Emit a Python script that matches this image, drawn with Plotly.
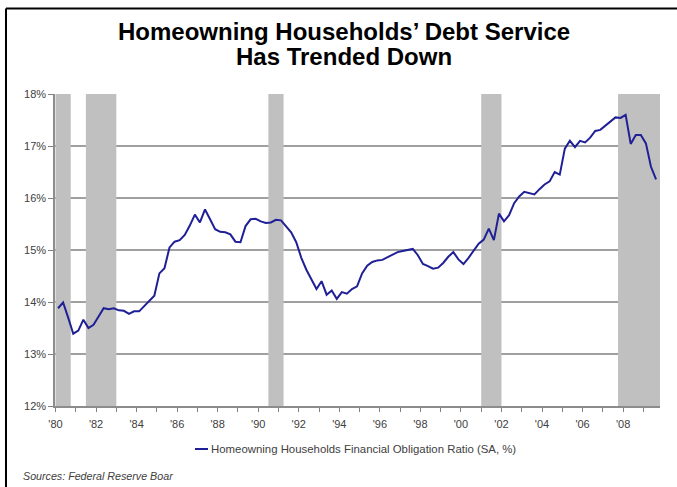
import plotly.graph_objects as go

# Homeowning households' financial obligation ratio, quarterly, 1980Q1-2009Q3 (SA, %)
years = list(range(1980, 2010))
ratio = [
    13.88, 13.99, 13.70, 13.39,   # 1980
    13.45, 13.66, 13.50, 13.56,   # 1981
    13.72, 13.88, 13.86, 13.88,   # 1982
    13.84, 13.83, 13.77, 13.82,   # 1983
    13.82, 13.92, 14.00, 14.12,   # 1984
    14.55, 14.65, 15.05, 15.16,   # 1985
    15.19, 15.29, 15.47, 15.68,   # 1986
    15.53, 15.78, 15.59, 15.40,   # 1987
    15.35, 15.34, 15.30, 15.16,   # 1988
    15.15, 15.46, 15.59, 15.60,   # 1989
    15.55, 15.52, 15.53, 15.58,   # 1990
    15.57, 15.45, 15.34, 15.15,   # 1991
    14.85, 14.62, 14.43, 14.25,   # 1992
    14.40, 14.14, 14.22, 14.06,   # 1993
    14.19, 14.16, 14.25, 14.30,   # 1994
    14.55, 14.70, 14.77, 14.80,   # 1995
    14.81, 14.86, 14.90, 14.96,   # 1996
    14.98, 15.00, 15.02, 14.90,   # 1997
    14.73, 14.69, 14.64, 14.66,   # 1998
    14.75, 14.87, 14.96, 14.82,   # 1999
    14.73, 14.85, 14.98, 15.12,   # 2000
    15.20, 15.41, 15.19, 15.70,   # 2001
    15.55, 15.67, 15.90, 16.03,   # 2002
    16.12, 16.10, 16.07, 16.17,   # 2003
    16.26, 16.32, 16.50, 16.45,   # 2004
    16.95, 17.10, 16.98, 17.10,   # 2005
    17.07, 17.16, 17.29, 17.31,   # 2006
    17.39, 17.46, 17.55, 17.54,   # 2007
    17.60, 17.04, 17.21, 17.21,   # 2008
    17.05, 16.60, 16.36,          # 2009
]

# Recession periods (decimal years); the last one runs to the end of the axis
recessions = [(1980.0, 1980.75), (1981.5, 1983.0), (1990.5, 1991.25),
              (2001.0, 2002.0), (2007.75, None)]

y_ticks = [12, 13, 14, 15, 16, 17, 18]
y_tick_labels = [f"{v}%" for v in y_ticks]
x_tick_labels = [f"'{str(y)[2:]}" if y % 2 == 0 else "" for y in years]

series_name = "Homeowning Households Financial Obligation Ratio (SA, %)"

# Quarter mid-points as decimal years
quarter_x = [years[i // 4] + 0.125 + 0.25 * (i % 4) for i in range(len(ratio))]

X_MIN, X_MAX = 1979.975, 2009.82
FONT = "Liberation Sans, Arial, sans-serif"
TEXT = "#404040"
GRID = "#a0a0a0"
LINE = "#1f1f96"

fig = go.Figure()
fig.add_trace(go.Scatter(
    x=quarter_x, y=ratio, mode="lines", name=series_name,
    line=dict(color=LINE, width=2), showlegend=False,
))

shapes = []
for start, end in recessions:
    shapes.append(dict(
        type="rect", xref="x", yref="y", x0=start, x1=end if end else X_MAX,
        y0=y_ticks[0], y1=y_ticks[-1], fillcolor="#c0c0c0",
        line=dict(width=0), layer="between",
    ))

# Frame around the chart (top and left edges)
shapes.append(dict(type="line", xref="paper", yref="paper",
                   x0=-0.081, x1=1.1, y0=1.274, y1=1.274,
                   line=dict(color="black", width=2)))
shapes.append(dict(type="line", xref="paper", yref="paper",
                   x0=-0.081, x1=-0.081, y0=1.274, y1=-0.3,
                   line=dict(color="black", width=2)))

# Legend key
shapes.append(dict(type="line", xref="paper", yref="paper",
                   x0=0.2314, x1=0.2529, y0=-0.1378, y1=-0.1378,
                   line=dict(color=LINE, width=2)))

annotations = [
    dict(text="<b>Homeowning Households’ Debt Service</b>", xref="paper", yref="paper",
         x=0.4777, y=1.2019, xanchor="center", yanchor="middle", showarrow=False,
         font=dict(family=FONT, size=24, color="black")),
    dict(text="<b>Has Trended Down</b>", xref="paper", yref="paper",
         x=0.4777, y=1.1186, xanchor="center", yanchor="middle", showarrow=False,
         font=dict(family=FONT, size=24, color="black")),
    dict(text=series_name, xref="paper", yref="paper",
         x=0.2545, y=-0.1378, xanchor="left", yanchor="middle", showarrow=False,
         font=dict(family=FONT, size=11.4, color=TEXT)),
    dict(text="<i>Sources: Federal Reserve Boar</i>", xref="paper", yref="paper",
         x=-0.0565, y=-0.2244, xanchor="left", yanchor="middle", showarrow=False,
         font=dict(family=FONT, size=10.7, color=TEXT)),
]

fig.update_layout(
    width=677, height=487,
    margin=dict(l=55, r=17, t=94, b=81),
    paper_bgcolor="white", plot_bgcolor="white",
    shapes=shapes, annotations=annotations,
    font=dict(family=FONT, size=11, color=TEXT),
)
fig.update_xaxes(
    range=[X_MIN, X_MAX], tickmode="array", tickvals=years, ticktext=x_tick_labels,
    ticks="outside", ticklen=4, tickcolor="#808080", tickwidth=1,
    ticklabelstandoff=3,
    showline=True, linecolor="#8c8c8c", linewidth=1.5,
    showgrid=False, zeroline=False,
    tickfont=dict(family=FONT, size=11, color=TEXT),
)
fig.update_yaxes(
    range=[y_ticks[0], y_ticks[-1]], tickmode="array", tickvals=y_ticks, ticktext=y_tick_labels,
    ticks="outside", ticklen=5, tickcolor="#808080", tickwidth=1,
    showline=True, linecolor="#8c8c8c", linewidth=1.5,
    showgrid=True, gridcolor=GRID, gridwidth=1.5, zeroline=False,
    tickfont=dict(family=FONT, size=11, color=TEXT),
)

fig.write_html("out.html")
